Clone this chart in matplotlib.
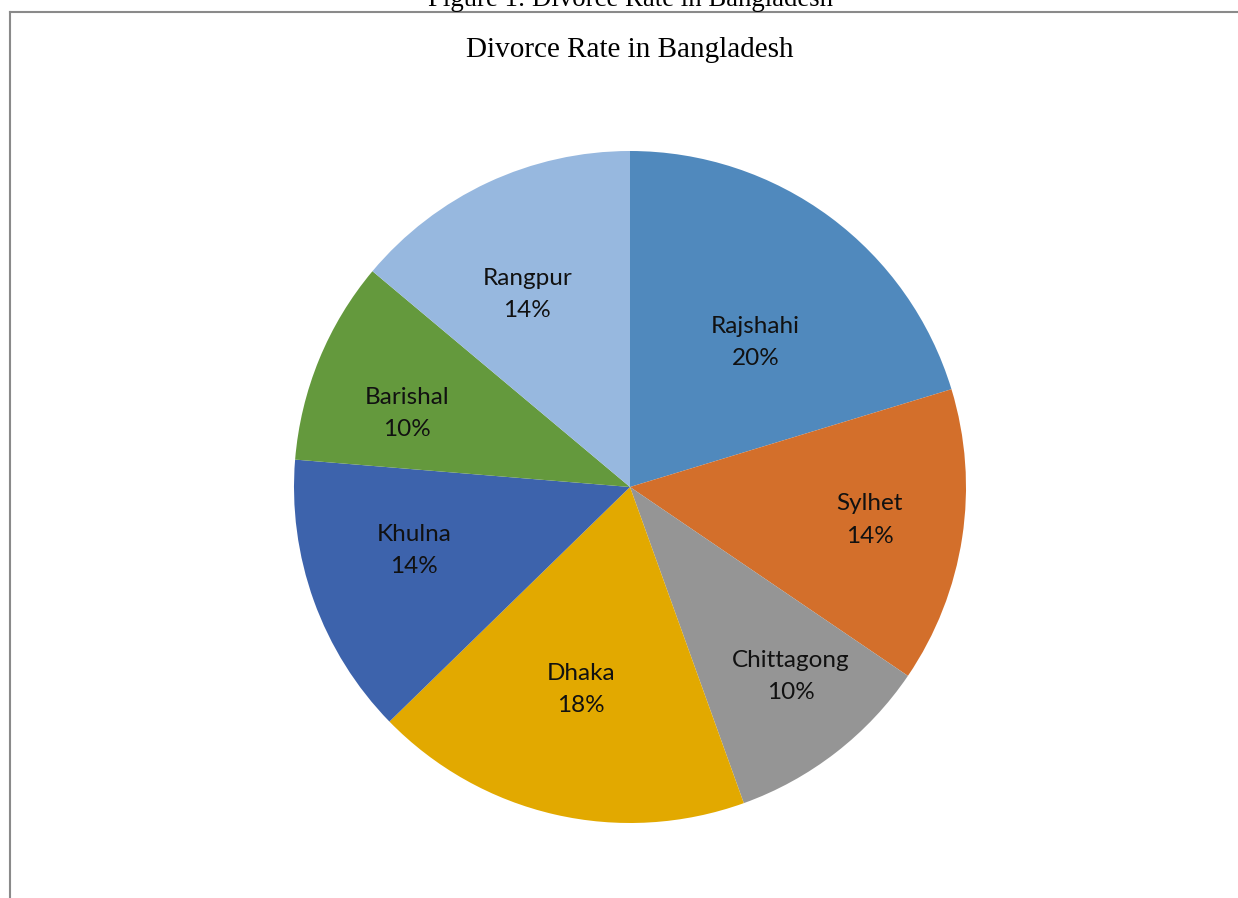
import numpy as np
import matplotlib
matplotlib.use("Agg")
import matplotlib.pyplot as plt
from matplotlib.lines import Line2D

regions = ['Rajshahi', 'Sylhet', 'Chittagong', 'Dhaka', 'Khulna', 'Barishal', 'Rangpur']
rates = [20.3, 14.2, 10.0, 18.2, 13.6, 9.8, 13.9]
colors = ['#5089BD', '#D36F2B', '#959595', '#E2A900', '#3D63AC', '#64993D', '#97B8DF']
# label placement: radius fraction and angle nudge (deg) from wedge middle
label_r = [0.57, 0.72, 0.74, 0.62, 0.67, 0.70, 0.65]
label_da = [-4.5, 0.8, 2.4, -0.6, -3.5, 4.0, 3.0]

W, H = 1238, 898
fig = plt.figure(figsize=(W / 100, H / 100), dpi=100)

cx, cy, R = 630, 487, 336
ax = fig.add_axes([(cx - R) / W, (H - cy - R) / H, 2 * R / W, 2 * R / H])
wedges, _ = ax.pie(rates, colors=colors, startangle=90, counterclock=False,
                   radius=1, center=(0, 0), wedgeprops=dict(linewidth=0))
ax.set_xlim(-1, 1)
ax.set_ylim(-1, 1)
ax.set_aspect('auto')
ax.axis('off')

total = sum(rates)
for w, name, v, r, da in zip(wedges, regions, rates, label_r, label_da):
    ang = np.deg2rad((w.theta1 + w.theta2) / 2 + da)
    ax.text(r * np.cos(ang), r * np.sin(ang), '{}\n{:.0f}%'.format(name, 100 * v / total),
            ha='center', va='center', fontsize=17.5, family=['Lato', 'DejaVu Sans'],
            linespacing=1.65, color='#111111')

fig.text(cx / W, 1 - 50 / H, 'Divorce Rate in Bangladesh', ha='center', va='center',
         fontsize=21, family='Liberation Serif')
fig.text(cx / W, 1 - 6 / H, 'Figure 1: Divorce Rate in Bangladesh', ha='center',
         va='baseline', fontsize=19.3, family='Liberation Serif')

# frame lines (top and left)
fig.add_artist(Line2D([10 / W, 1], [1 - 12 / H, 1 - 12 / H], transform=fig.transFigure,
                      color='#8a8a8a', lw=1.5))
fig.add_artist(Line2D([10 / W, 10 / W], [0, 1 - 12 / H], transform=fig.transFigure,
                      color='#8a8a8a', lw=1.5))

fig.savefig('out.png', dpi=100)
